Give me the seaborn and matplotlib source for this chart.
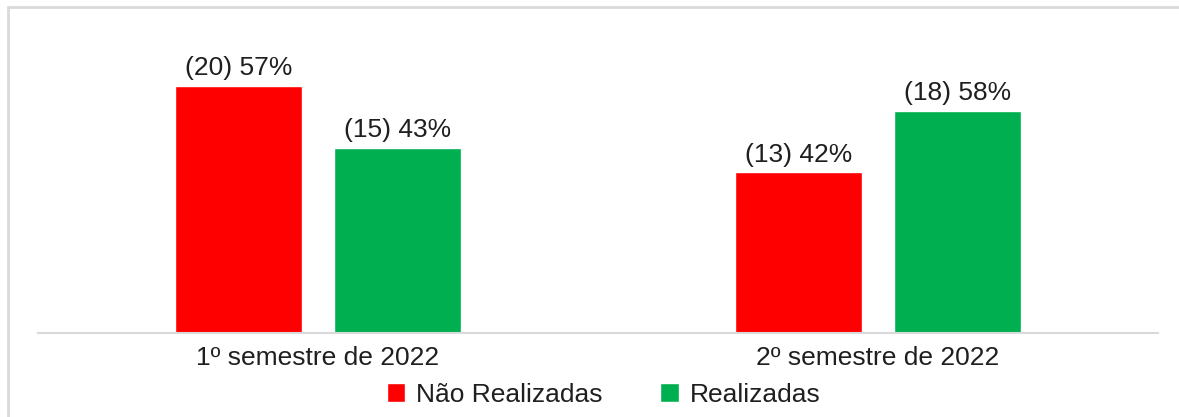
import pandas as pd
import matplotlib
matplotlib.use("Agg")
import matplotlib.pyplot as plt
import matplotlib.patches as mpatches
import seaborn as sns

# data
semesters = ["1º semestre de 2022", "2º semestre de 2022"]
series = ["Não Realizadas", "Realizadas"]
counts_nao = [20, 13]
counts_real = [15, 18]
pct_nao = [57, 42]
pct_real = [43, 58]
colors = ["#FF0000", "#00B050"]

df = pd.DataFrame({
    "semestre": semesters * 2,
    "status": [series[0]] * 2 + [series[1]] * 2,
    "qtd": counts_nao + counts_real,
    "pct": pct_nao + pct_real,
})

sns.set_style("white")
plt.rcParams["font.family"] = ["Liberation Sans", "DejaVu Sans"]

fig = plt.figure(figsize=(11.79, 4.17), dpi=100)
ax = fig.add_axes([0.0322, 0.2014, 0.95, 0.738])

sns.barplot(data=df, x="semestre", y="qtd", hue="status", palette=colors,
            width=0.566, gap=0.2, saturation=1, ax=ax)

# value labels "(n) p%"
for cont, name in zip(ax.containers, series):
    sub = df[df["status"] == name]
    labels = [f"({q}) {p}%" for q, p in zip(sub["qtd"], sub["pct"])]
    ax.bar_label(cont, labels=labels, padding=4, fontsize=19, color="#1F1F1F")

ax.set_ylim(0, 24.9)
ax.set_xlim(-0.5, 1.5)
ax.set_xlabel("")
ax.set_ylabel("")
ax.set_yticks([])
ax.tick_params(axis="x", length=0, pad=9, labelsize=19, labelcolor="#1F1F1F")
for s in ["top", "right", "left"]:
    ax.spines[s].set_visible(False)
ax.spines["bottom"].set_color("#D9D9D9")
ax.spines["bottom"].set_linewidth(1.5)

ax.legend(loc="center", bbox_to_anchor=(0.505, -0.2), ncol=2, frameon=False,
          fontsize=19, handlelength=0.7, handleheight=0.7, handletextpad=0.4,
          columnspacing=2.2, labelcolor="#1F1F1F")

# outer chart border (cut off at right and bottom)
fig.patches.append(mpatches.Rectangle((8 / 1179, -0.1), 1.2, (417 - 7) / 417 + 0.1,
                                      transform=fig.transFigure, fill=False,
                                      edgecolor="#D9D9D9", linewidth=2))

fig.savefig("out.png", dpi=100)
